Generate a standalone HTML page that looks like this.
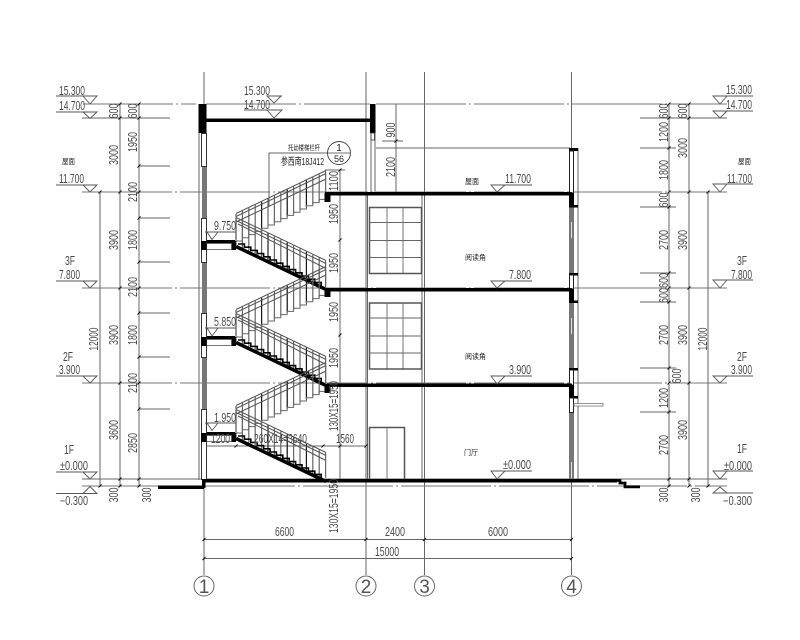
<!DOCTYPE html>
<html><head><meta charset="utf-8"><style>
html,body{margin:0;padding:0;background:#fff}
svg{display:block}
text{font-family:"Liberation Sans","Noto Sans CJK SC",sans-serif;font-size:12.5px;fill:#4a4a4a}
.c{fill:#222}
.a{fill:#555}
</style></head><body>
<svg width="800" height="640" viewBox="0 0 800 640" xmlns="http://www.w3.org/2000/svg">
<defs>
<g id="up">
<path d="M236 214V241M242.4 210.9v27M248.8 207.9v27M255.2 204.8v27M261.6 201.8v27M268 198.7v27M274.4 195.6v27M280.8 192.6v27M287.2 189.5v27M293.6 186.5v27M300 183.4v27M306.4 180.3v27M312.8 177.3v27M319.2 174.2v27M325.6 171.2v25" stroke="#666" stroke-width="1.2" fill="none"/>
<path d="M261.6 201.8v27M287.2 189.5v27M306.4 180.3v27" stroke="#111" stroke-width="1" fill="none"/>
<path d="M236 213.500L326 170.500M236 216.500L326 173.500M236 222L326 179" stroke="#555" stroke-width="1" fill="none"/>
<path d="M236 241h6.4v-3.2h6.4v-3.2h6.4v-3.2h6.4v-3.2h6.4v-3.2h6.4v-3.2h6.4v-3.2h6.4v-3.2h6.4v-3.2h6.4v-3.2h6.4v-3.2h6.4v-3.2h6.4v-3.2h6.4v-3" stroke="#666" stroke-width="1" fill="none"/>
</g>
<g id="down">
<path d="M236 218v27M242.4 221v27M248.8 224.1v27M255.2 227.2v27M261.6 230.2v27M268 233.3v27M274.4 236.4v27M280.8 239.4v27M287.2 242.5v27M293.6 245.5v27M300 248.6v27M306.4 251.7v27M312.8 254.7v27M319.2 257.8v27M325.6 260.8v25" stroke="#666" stroke-width="1.2" fill="none"/>
<path d="M268 233.3v27M287.2 242.5v27M306.4 251.7v27" stroke="#111" stroke-width="1" fill="none"/>
<path d="M236 217.500L326 260.500M236 220.500L326 263.500M238 224L325 268" stroke="#555" stroke-width="1" fill="none"/>
<path d="M236 246.500L326 289.500" stroke="#000" stroke-width="3.500" fill="none"/>
<path d="M238 244h6.4v3.2h6.4v3.2h6.4v3.2h6.4v3.2h6.4v3.2h6.4v3.2h6.4v3.2h6.4v3.2h6.4v3.2h6.4v3.2h6.4v3.2h6.4v3.2h6.4v3.2" stroke="#000" stroke-width="1.6" fill="none"/>
</g>
<g id="land">
<rect x="201" y="240" width="34" height="3.200" fill="#000"/>
<rect x="201" y="241" width="5.500" height="9" fill="#000"/>
<rect x="231" y="241" width="5" height="9" fill="#000"/>
<rect x="206.500" y="243.500" width="25" height="6" fill="#fff" stroke="#555" stroke-width=".8"/>
</g>
<g id="win">
<rect x="369.500" y="207.500" width="52" height="66" fill="none" stroke="#555" stroke-width="1.500"/>
<path d="M387 207V273M403 207V273M369 222.500H422M369 240.500H422M369 257.500H422" stroke="#666" stroke-width=".9" fill="none"/>
</g>
</defs>

<!-- grid lines -->
<g stroke="#666" stroke-width="1" fill="none">
<path d="M204 72V575M366 72V575M424.500 72V575M571.500 72V575"/>
<path d="M83 104H196M206 104H370M376 104H727" stroke="#777" stroke-dasharray="90 3 2 3"/>
<path d="M82 192H727M82 288H727M82 383H727M82 486H158M205 486H727" stroke="#777" stroke-dasharray="90 3 2 3"/>
<path d="M82 118H170M640 118H727M82 479H727"/>
<!-- left dims -->
<path d="M100 192V487M120 104V487M139 104V487"/>
<path d="M139 166H170M139 218H170M139 262H170M139 313H170M139 357H170M139 409H170"/>
<!-- right dims -->
<path d="M669 104V487M689 104V487M708 192V487"/>
<path d="M640 148H676M640 207H676M640 273H676M640 302H676M640 368H676M640 412H676"/>
<!-- bottom dims -->
<path d="M204 539.500H572M204 558.500H572"/>
<path d="M205 446H366"/>
<!-- stair dim -->
<path d="M340 170V480M325 170H345M396 104V193M382 141H403M376 148H570"/>
<path d="M269 206V153H328"/>
<!-- walls 2/3 thin -->
<path d="M367.500 193V480M422 193V480M371 133V192M375 133V192"/>
<path d="M199 133V480M578 148V480"/>
</g>

<!-- ticks -->
<path d="M98.500 193.500l3-3M118.500 105.500l3-3M118.500 119.500l3-3M118.500 193.500l3-3M118.500 289.500l3-3M118.500 384.500l3-3M118.500 480.500l3-3M118.500 487.500l3-3M98.500 487.500l3-3M137.500 105.500l3-3M137.500 119.500l3-3M137.500 167.500l3-3M137.500 193.500l3-3M137.500 219.500l3-3M137.500 263.500l3-3M137.500 289.500l3-3M137.500 314.500l3-3M137.500 358.500l3-3M137.500 384.500l3-3M137.500 410.500l3-3M137.500 480.500l3-3M137.500 487.500l3-3M667.500 105.500l3-3M667.500 119.500l3-3M667.500 149.500l3-3M667.500 193.500l3-3M667.500 208.500l3-3M667.500 274.500l3-3M667.500 289.500l3-3M667.500 303.500l3-3M667.500 369.500l3-3M667.500 384.500l3-3M667.500 413.500l3-3M667.500 480.500l3-3M667.500 487.500l3-3M687.500 105.500l3-3M687.500 119.500l3-3M687.500 193.500l3-3M687.500 289.500l3-3M687.500 384.500l3-3M687.500 480.500l3-3M687.500 487.500l3-3M706.500 193.500l3-3M706.500 487.500l3-3M202.500 541l3-3M364.500 541l3-3M423 541l3-3M570 541l3-3M202.500 560l3-3M570 560l3-3M234.500 447.500l3-3M321.500 447.500l3-3M338.500 447.500l3-3M364.500 447.500l3-3M338.500 171.500l3-3M338.500 241.500l3-3M338.500 336.500l3-3M394.500 142.500l3-3" stroke="#111" stroke-width="1" fill="none"/>

<!-- stairs -->
<use href="#up"/><use href="#down"/><use href="#land"/>
<use href="#up" y="96"/><use href="#down" y="96"/><use href="#land" y="96"/>
<use href="#up" y="192"/><use href="#down" y="192"/><use href="#land" y="192"/>

<!-- left wall -->
<rect x="202" y="133" width="5" height="347" fill="#777"/>
<rect x="198.500" y="104" width="8" height="29" fill="#000"/>
<g fill="#fff" stroke="#333" stroke-width="1">
<rect x="201.500" y="133.500" width="5" height="33"/>
<rect x="201.500" y="218.500" width="5" height="44"/>
<rect x="201.500" y="313.500" width="5" height="44"/>
<rect x="201.500" y="409.500" width="5" height="70"/>
</g>
<rect x="201" y="241" width="5.500" height="9" fill="#000"/>
<rect x="201" y="337" width="5.500" height="9" fill="#000"/>
<rect x="201" y="433" width="5.500" height="9" fill="#000"/>

<!-- roof beam -->
<rect x="206" y="118.500" width="165" height="3.500" fill="#000"/>
<rect x="370" y="104" width="5.500" height="29" fill="#000"/>
<rect x="371" y="133" width="3.500" height="7" fill="#fff" stroke="#333" stroke-width=".8"/>

<!-- windows/door -->
<use href="#win"/><use href="#win" y="95.500"/>
<path d="M369.500 480V427.500H404.500V480" fill="none" stroke="#555" stroke-width="1.500"/>
<path d="M387 427V480" stroke="#666" stroke-width=".9"/>

<!-- right wall -->
<rect x="569" y="207" width="5" height="273" fill="#777"/>
<path d="M571.500 222v16M571.500 318v16M571.500 462v16" stroke="#ddd" stroke-width="1"/>
<rect x="569" y="148" width="9" height="3" fill="#000"/>
<rect x="569.500" y="151" width="4" height="42" fill="#fff" stroke="#222" stroke-width="1"/>
<rect x="569" y="193" width="5" height="14" fill="#000"/>
<rect x="569" y="205" width="9" height="2.500" fill="#000"/>
<rect x="569" y="273" width="9" height="2.500" fill="#000"/>
<rect x="569.500" y="275" width="4" height="14" fill="#fff" stroke="#222"/>
<rect x="569" y="289" width="5" height="13" fill="#000"/>
<rect x="569" y="300.500" width="9" height="2.500" fill="#000"/>
<rect x="569" y="368" width="9" height="2.500" fill="#000"/>
<rect x="569.500" y="370" width="4" height="15" fill="#fff" stroke="#222"/>
<rect x="569" y="385" width="5" height="12" fill="#000"/>
<rect x="569" y="396" width="9" height="2.500" fill="#000"/>
<rect x="569.500" y="398" width="4" height="14.500" fill="#fff" stroke="#222"/>
<rect x="574" y="403.500" width="29" height="2.500" fill="#fff" stroke="#777" stroke-width=".8"/>

<!-- slabs -->
<g fill="#000">
<rect x="325" y="192" width="247" height="3.500"/>
<rect x="324.500" y="193" width="6" height="9"/>
<rect x="327" y="288" width="245" height="3.500"/>
<rect x="324.500" y="288" width="6" height="9"/>
<rect x="327" y="383.500" width="245" height="3.500"/>
<rect x="324.500" y="384" width="6" height="9"/>
<rect x="203" y="479" width="414" height="3.500"/>
<rect x="158" y="485.500" width="46" height="3.500"/>
<rect x="202" y="479" width="3.500" height="9"/>
</g>
<path d="M617 480.500H620V483H625V486.800H640" fill="none" stroke="#000" stroke-width="2.800"/>

<!-- level marks -->
<g fill="none" stroke="#555" stroke-width=".9">
<path d="M56 96H97L90 104L83 96"/>
<path d="M56 112H97L90 118.500L83 112"/>
<path d="M56 185H97L90 192L83 185"/>
<path d="M56 281H97L90 288L83 281"/>
<path d="M56 376H97L90 383L83 376"/>
<path d="M56 472H97L90 479L83 472"/>
<path d="M56 493.500H97L90 486.500L83 493.500"/>
<path d="M753 96H713L720 104L727 96"/>
<path d="M753 111H713L720 118L727 111"/>
<path d="M753 184H713L720 192L727 184"/>
<path d="M753 280H713L720 288L727 280"/>
<path d="M753 376H713L720 383L727 376"/>
<path d="M753 471H713L720 479L727 471"/>
<path d="M753 493H713L720 487L727 493"/>
<path d="M282 96H267L274 103L281 96M244 110H282L274 118L267 110"/>
<path d="M532 185H491L497 192L505 185"/>
<path d="M532 281H491L497 288L505 281"/>
<path d="M532 376H491L497 384L505 376"/>
<path d="M532 471H491L497 479L505 471"/>
<path d="M205 232H236M207 232L212 239.500L218 232"/>
<path d="M205 328H236M207 328L212 336L218 328"/>
<path d="M205 423H236M207 423L212 430.500L218 423"/>
</g>

<!-- detail callout -->
<circle cx="339" cy="153" r="11.500" fill="#fff" stroke="#444" stroke-width=".9"/>
<path d="M327.500 153H350.500" stroke="#444" stroke-width=".8"/>
<text x="339" y="151" text-anchor="middle" style="font-size:10px;fill:#222">1</text>
<text x="339" y="162" text-anchor="middle" style="font-size:9px;fill:#222">56</text>
<text class="c" x="288" y="150" textLength="32" lengthAdjust="spacingAndGlyphs" style="font-size:7px">托幼楼梯栏杆</text>
<text x="281" y="165" textLength="43" lengthAdjust="spacingAndGlyphs" style="font-size:10px;fill:#222">参西南18J412</text>

<!-- axis bubbles -->
<g fill="#fff" stroke="#666" stroke-width="1">
<circle cx="204" cy="586" r="10"/><circle cx="366" cy="586" r="10"/><circle cx="424.500" cy="586" r="10"/><circle cx="571.500" cy="586" r="10"/>
</g>
<g text-anchor="middle">
<text class="a" x="204" y="593" style="font-size:19px">1</text>
<text class="a" x="366" y="593" style="font-size:19px">2</text>
<text class="a" x="424.500" y="593" style="font-size:19px">3</text>
<text class="a" x="571.500" y="593" style="font-size:19px">4</text>
</g>

<!-- level text left -->
<g>
<text x="59" y="95" textLength="26" lengthAdjust="spacingAndGlyphs">15.300</text>
<text x="59" y="110" textLength="26" lengthAdjust="spacingAndGlyphs">14.700</text>
<text x="59" y="183" textLength="25" lengthAdjust="spacingAndGlyphs">11.700</text>
<text x="59" y="279" textLength="21" lengthAdjust="spacingAndGlyphs">7.800</text>
<text x="59" y="374" textLength="21" lengthAdjust="spacingAndGlyphs">3.900</text>
<text x="60" y="470" textLength="28" lengthAdjust="spacingAndGlyphs">±0.000</text>
<text x="60" y="505" textLength="28" lengthAdjust="spacingAndGlyphs">−0.300</text>
<text x="65" y="265" textLength="10" lengthAdjust="spacingAndGlyphs">3F</text>
<text x="63" y="361" textLength="10" lengthAdjust="spacingAndGlyphs">2F</text>
<text x="64" y="454" textLength="10" lengthAdjust="spacingAndGlyphs">1F</text>
<text class="c" x="62" y="164" textLength="13" lengthAdjust="spacingAndGlyphs" style="font-size:7.500px">屋面</text>
<!-- right -->
<text x="726" y="94" textLength="26" lengthAdjust="spacingAndGlyphs">15.300</text>
<text x="726" y="109" textLength="26" lengthAdjust="spacingAndGlyphs">14.700</text>
<text x="727" y="183" textLength="25" lengthAdjust="spacingAndGlyphs">11.700</text>
<text x="731" y="279" textLength="21" lengthAdjust="spacingAndGlyphs">7.800</text>
<text x="731" y="374" textLength="21" lengthAdjust="spacingAndGlyphs">3.900</text>
<text x="724" y="470" textLength="28" lengthAdjust="spacingAndGlyphs">±0.000</text>
<text x="723" y="505" textLength="29" lengthAdjust="spacingAndGlyphs">−0.300</text>
<text x="737" y="265" textLength="10" lengthAdjust="spacingAndGlyphs">3F</text>
<text x="737" y="361" textLength="10" lengthAdjust="spacingAndGlyphs">2F</text>
<text x="737" y="453" textLength="10" lengthAdjust="spacingAndGlyphs">1F</text>
<text class="c" x="738" y="164" textLength="13" lengthAdjust="spacingAndGlyphs" style="font-size:7.500px">屋面</text>
<!-- mid -->
<text x="244" y="95" textLength="26" lengthAdjust="spacingAndGlyphs">15.300</text>
<text x="244" y="109" textLength="26" lengthAdjust="spacingAndGlyphs">14.700</text>
<text x="505" y="183" textLength="26" lengthAdjust="spacingAndGlyphs">11.700</text>
<text x="509" y="279" textLength="22" lengthAdjust="spacingAndGlyphs">7.800</text>
<text x="509" y="374" textLength="22" lengthAdjust="spacingAndGlyphs">3.900</text>
<text x="503" y="469" textLength="28" lengthAdjust="spacingAndGlyphs">±0.000</text>
<text x="214" y="230" textLength="22" lengthAdjust="spacingAndGlyphs">9.750</text>
<text x="214" y="326" textLength="22" lengthAdjust="spacingAndGlyphs">5.850</text>
<text x="214" y="422" textLength="22" lengthAdjust="spacingAndGlyphs">1.950</text>
<text class="c" x="465" y="184" textLength="14" lengthAdjust="spacingAndGlyphs" style="font-size:7.500px">屋面</text>
<text class="c" x="465" y="260" textLength="21" lengthAdjust="spacingAndGlyphs" style="font-size:7.500px">阅读角</text>
<text class="c" x="465" y="359" textLength="21" lengthAdjust="spacingAndGlyphs" style="font-size:7.500px">阅读角</text>
<text class="c" x="464" y="455" textLength="14" lengthAdjust="spacingAndGlyphs" style="font-size:7.500px">门厅</text>
<text x="211" y="443" textLength="19" lengthAdjust="spacingAndGlyphs">1200</text>
<text x="254" y="443" textLength="53" lengthAdjust="spacingAndGlyphs">260X14=3640</text>
<text x="336" y="443" textLength="18" lengthAdjust="spacingAndGlyphs">1560</text>
<!-- bottom -->
<text x="275" y="536" textLength="19" lengthAdjust="spacingAndGlyphs">6600</text>
<text x="385" y="536" textLength="20" lengthAdjust="spacingAndGlyphs">2400</text>
<text x="488" y="536" textLength="20" lengthAdjust="spacingAndGlyphs">6000</text>
<text x="375" y="556" textLength="24" lengthAdjust="spacingAndGlyphs">15000</text>
</g>

<!-- rotated text -->
<g text-anchor="middle">
<text transform="translate(118 111) rotate(-90)" textLength="15" lengthAdjust="spacingAndGlyphs">600</text>
<text transform="translate(118 155) rotate(-90)" textLength="20" lengthAdjust="spacingAndGlyphs">3000</text>
<text transform="translate(118 240) rotate(-90)" textLength="20" lengthAdjust="spacingAndGlyphs">3900</text>
<text transform="translate(118 335) rotate(-90)" textLength="20" lengthAdjust="spacingAndGlyphs">3900</text>
<text transform="translate(118 430) rotate(-90)" textLength="20" lengthAdjust="spacingAndGlyphs">3600</text>
<text transform="translate(118 495) rotate(-90)" textLength="15" lengthAdjust="spacingAndGlyphs">300</text>
<text transform="translate(98 339) rotate(-90)" textLength="23" lengthAdjust="spacingAndGlyphs">12000</text>
<text transform="translate(137 111) rotate(-90)" textLength="15" lengthAdjust="spacingAndGlyphs">600</text>
<text transform="translate(137 142) rotate(-90)" textLength="20" lengthAdjust="spacingAndGlyphs">1950</text>
<text transform="translate(137 192) rotate(-90)" textLength="20" lengthAdjust="spacingAndGlyphs">2100</text>
<text transform="translate(137 240) rotate(-90)" textLength="20" lengthAdjust="spacingAndGlyphs">1800</text>
<text transform="translate(137 287) rotate(-90)" textLength="20" lengthAdjust="spacingAndGlyphs">2100</text>
<text transform="translate(137 335) rotate(-90)" textLength="20" lengthAdjust="spacingAndGlyphs">1800</text>
<text transform="translate(137 383) rotate(-90)" textLength="20" lengthAdjust="spacingAndGlyphs">2100</text>
<text transform="translate(137 443) rotate(-90)" textLength="20" lengthAdjust="spacingAndGlyphs">2850</text>
<text transform="translate(151 495) rotate(-90)" textLength="15" lengthAdjust="spacingAndGlyphs">300</text>

<text transform="translate(668 111) rotate(-90)" textLength="15" lengthAdjust="spacingAndGlyphs">600</text>
<text transform="translate(668 132) rotate(-90)" textLength="20" lengthAdjust="spacingAndGlyphs">1200</text>
<text transform="translate(668 170) rotate(-90)" textLength="20" lengthAdjust="spacingAndGlyphs">1800</text>
<text transform="translate(668 200) rotate(-90)" textLength="15" lengthAdjust="spacingAndGlyphs">600</text>
<text transform="translate(668 240) rotate(-90)" textLength="20" lengthAdjust="spacingAndGlyphs">2700</text>
<text transform="translate(668 288) rotate(-90)" textLength="30" lengthAdjust="spacingAndGlyphs">600600</text>
<text transform="translate(668 335) rotate(-90)" textLength="20" lengthAdjust="spacingAndGlyphs">2700</text>
<text transform="translate(681 376) rotate(-90)" textLength="15" lengthAdjust="spacingAndGlyphs">600</text>
<text transform="translate(668 398) rotate(-90)" textLength="20" lengthAdjust="spacingAndGlyphs">1200</text>
<text transform="translate(668 445) rotate(-90)" textLength="20" lengthAdjust="spacingAndGlyphs">2700</text>
<text transform="translate(668 495) rotate(-90)" textLength="15" lengthAdjust="spacingAndGlyphs">300</text>
<text transform="translate(687 111) rotate(-90)" textLength="15" lengthAdjust="spacingAndGlyphs">600</text>
<text transform="translate(687 148) rotate(-90)" textLength="20" lengthAdjust="spacingAndGlyphs">3000</text>
<text transform="translate(687 240) rotate(-90)" textLength="20" lengthAdjust="spacingAndGlyphs">3900</text>
<text transform="translate(687 335) rotate(-90)" textLength="20" lengthAdjust="spacingAndGlyphs">3900</text>
<text transform="translate(687 430) rotate(-90)" textLength="20" lengthAdjust="spacingAndGlyphs">3900</text>
<text transform="translate(700 495) rotate(-90)" textLength="15" lengthAdjust="spacingAndGlyphs">300</text>
<text transform="translate(707 339) rotate(-90)" textLength="23" lengthAdjust="spacingAndGlyphs">12000</text>

<text transform="translate(338 181) rotate(-90)" textLength="20" lengthAdjust="spacingAndGlyphs">1100</text>
<text transform="translate(338 214) rotate(-90)" textLength="20" lengthAdjust="spacingAndGlyphs">1950</text>
<text transform="translate(338 263) rotate(-90)" textLength="20" lengthAdjust="spacingAndGlyphs">1950</text>
<text transform="translate(338 312) rotate(-90)" textLength="20" lengthAdjust="spacingAndGlyphs">1950</text>
<text transform="translate(338 358) rotate(-90)" textLength="20" lengthAdjust="spacingAndGlyphs">1950</text>
<text transform="translate(338 406) rotate(-90)" textLength="50" lengthAdjust="spacingAndGlyphs">130X15=1950</text>
<text transform="translate(338 506) rotate(-90)" textLength="54" lengthAdjust="spacingAndGlyphs">130X15=1950</text>
<text transform="translate(395 130) rotate(-90)" textLength="15" lengthAdjust="spacingAndGlyphs">900</text>
<text transform="translate(395 167) rotate(-90)" textLength="20" lengthAdjust="spacingAndGlyphs">2100</text>
</g>
</svg>
</body></html>
